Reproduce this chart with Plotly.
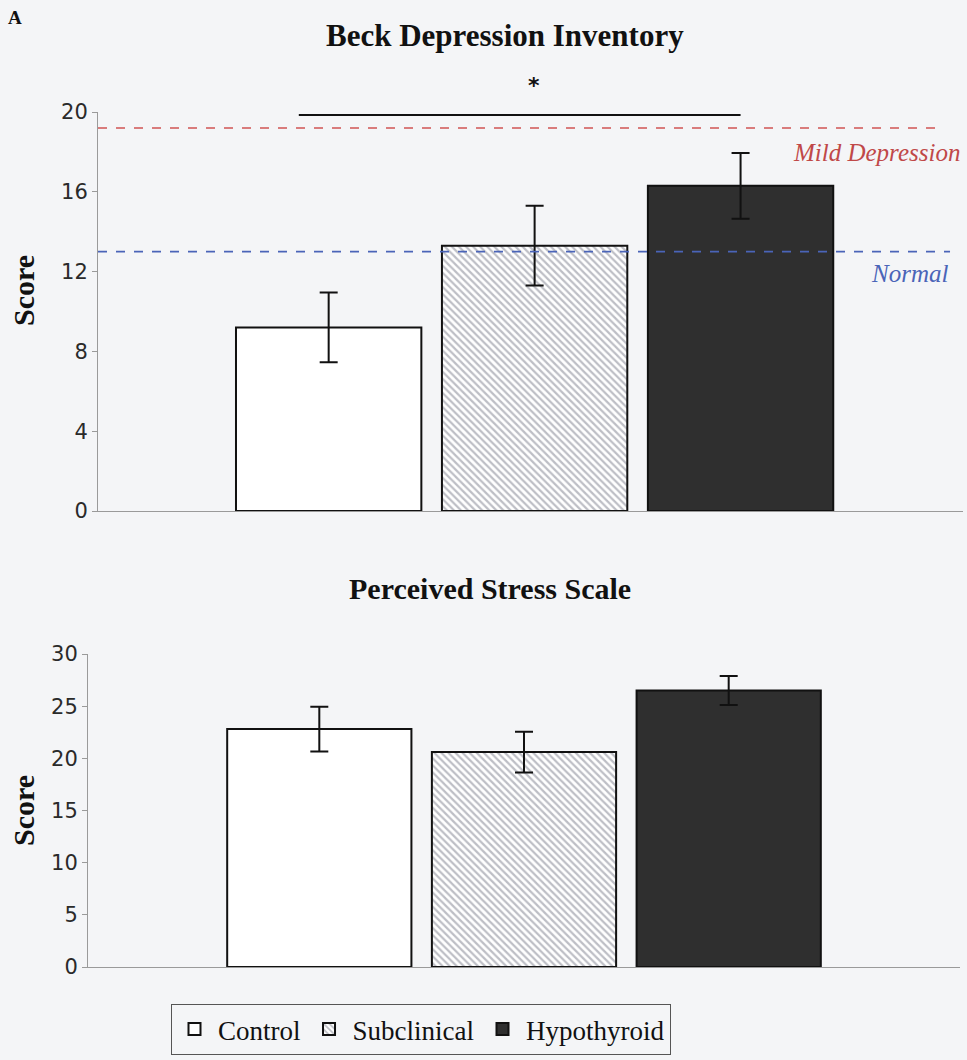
import plotly.graph_objects as go

groups = ["Control", "Subclinical", "Hypothyroid"]
bdi_mean = [9.2, 13.3, 16.3]
bdi_err = [1.75, 2.0, 1.65]
pss_mean = [22.8, 20.6, 26.5]
pss_err = [2.15, 1.95, 1.4]
bdi_thresholds = [19.2, 13.0]
threshold_labels = ["Mild Depression", "Normal"]
bdi_ticks = [0, 4, 8, 12, 16, 20]
pss_ticks = [0, 5, 10, 15, 20, 25, 30]

W, H = 967, 1060
bg = "#f4f5f7"
serif = "Liberation Serif"
sans = "DejaVu Sans"

fills = ["#ffffff", "#ffffff", "#2f2f2f"]
patterns = [dict(shape=""),
            dict(shape="\\", fgcolor="#7c7e8c", bgcolor="#ffffff", size=5, solidity=0.45),
            dict(shape="")]

fig = go.Figure()

for i, g in enumerate(groups):
    fig.add_trace(go.Bar(
        x=[g], y=[bdi_mean[i]], name=g, width=0.9,
        marker=dict(color=fills[i], pattern=patterns[i], line=dict(color="#111111", width=2)),
        error_y=dict(type="data", array=[bdi_err[i]], color="#111111", thickness=2, width=9),
        xaxis="x", yaxis="y", showlegend=True, legendgroup=g,
    ))
for i, g in enumerate(groups):
    fig.add_trace(go.Bar(
        x=[g], y=[pss_mean[i]], name=g, width=0.9,
        marker=dict(color=fills[i], pattern=patterns[i], line=dict(color="#111111", width=2)),
        error_y=dict(type="data", array=[pss_err[i]], color="#111111", thickness=2, width=9),
        xaxis="x2", yaxis="y2", showlegend=False, legendgroup=g,
    ))


def px(xp):
    return xp / W


def py(yp):
    return 1 - yp / H


axis_common = dict(showgrid=False, zeroline=False, linecolor="#9a9a9a", linewidth=1, automargin=False,
                   tickfont=dict(family=sans, size=21, color="#2a2a2a"))
xaxis_common = dict(type="category", categoryorder="array", categoryarray=groups,
                    showticklabels=False, ticks="", showline=True, linecolor="#9a9a9a",
                    showgrid=False, zeroline=False, automargin=False)

fig.update_layout(
    width=W, height=H, margin=dict(l=0, r=0, t=0, b=0, autoexpand=False),
    paper_bgcolor=bg, plot_bgcolor=bg, barmode="overlay", hovermode=False,
    xaxis=dict(domain=[px(98), px(963)], anchor="y", range=[-1.12, 3.08], **xaxis_common),
    yaxis=dict(domain=[py(511), py(112)], anchor="x", range=[0, 20], tickvals=bdi_ticks,
               ticks="outside", ticklen=5, tickcolor="#9a9a9a", showline=True,
               **axis_common),
    xaxis2=dict(domain=[px(88), px(960)], anchor="y2", range=[-1.13, 3.13], **xaxis_common),
    yaxis2=dict(domain=[py(967), py(654)], anchor="x2", range=[0, 30], tickvals=pss_ticks,
                ticks="outside", ticklen=5, tickcolor="#9a9a9a", showline=True,
                **axis_common),
    legend=dict(orientation="h", x=px(171), y=py(1004), xanchor="left", yanchor="top",
                font=dict(family=serif, size=27, color="#111111"),
                bgcolor=bg, bordercolor="#555555", borderwidth=1,
                itemsizing="constant", tracegroupgap=0, itemwidth=37),
)

# threshold lines
th_colors = ["#d05454", "#4a64b8"]
th_ends = [0.978, 0.985]
for v, c, e in zip(bdi_thresholds, th_colors, th_ends):
    fig.add_shape(type="line", xref="x domain", yref="y", x0=0, x1=e, y0=v, y1=v,
                  line=dict(color=c, width=1.6, dash="dash"))

fig.add_annotation(xref="x domain", yref="y", x=0.999, y=17.95, xanchor="right", yanchor="middle",
                   text="<i>" + threshold_labels[0] + "</i>", showarrow=False,
                   font=dict(family=serif, size=25, color="#c04848"))
fig.add_annotation(xref="x domain", yref="y", x=0.985, y=11.9, xanchor="right", yanchor="middle",
                   text="<i>" + threshold_labels[1] + "</i>", showarrow=False,
                   font=dict(family=serif, size=25, color="#4a64b8"))

# significance bar
fig.add_shape(type="line", xref="x", yref="y", x0=-0.145, x1=2.0, y0=19.85, y1=19.85,
              line=dict(color="#111111", width=2))
fig.add_annotation(xref="paper", yref="paper", x=px(534), y=py(86), text="<b>*</b>", showarrow=False,
                   xanchor="center", yanchor="middle", font=dict(family=sans, size=22, color="#111111"))

# axis titles
for yy in [py(291), py(811)]:
    fig.add_annotation(xref="paper", yref="paper", x=px(23), y=yy, text="<b>Score</b>", textangle=-90,
                       showarrow=False, xanchor="center", yanchor="middle",
                       font=dict(family=serif, size=30, color="#111111"))

# titles
fig.add_annotation(xref="paper", yref="paper", x=px(505), y=py(35), text="<b>Beck Depression Inventory</b>",
                   showarrow=False, xanchor="center", yanchor="middle",
                   font=dict(family=serif, size=31, color="#111111"))
fig.add_annotation(xref="paper", yref="paper", x=px(490), y=py(588), text="<b>Perceived Stress Scale</b>",
                   showarrow=False, xanchor="center", yanchor="middle",
                   font=dict(family=serif, size=30, color="#111111"))
fig.add_annotation(xref="paper", yref="paper", x=px(6), y=py(18), text="<b>A</b>",
                   showarrow=False, xanchor="left", yanchor="middle",
                   font=dict(family=serif, size=19, color="#111111"))

fig.write_html("out.html", config={"displayModeBar": False},
               post_script="document.body.style.margin='0px';document.body.style.overflow='hidden';")
